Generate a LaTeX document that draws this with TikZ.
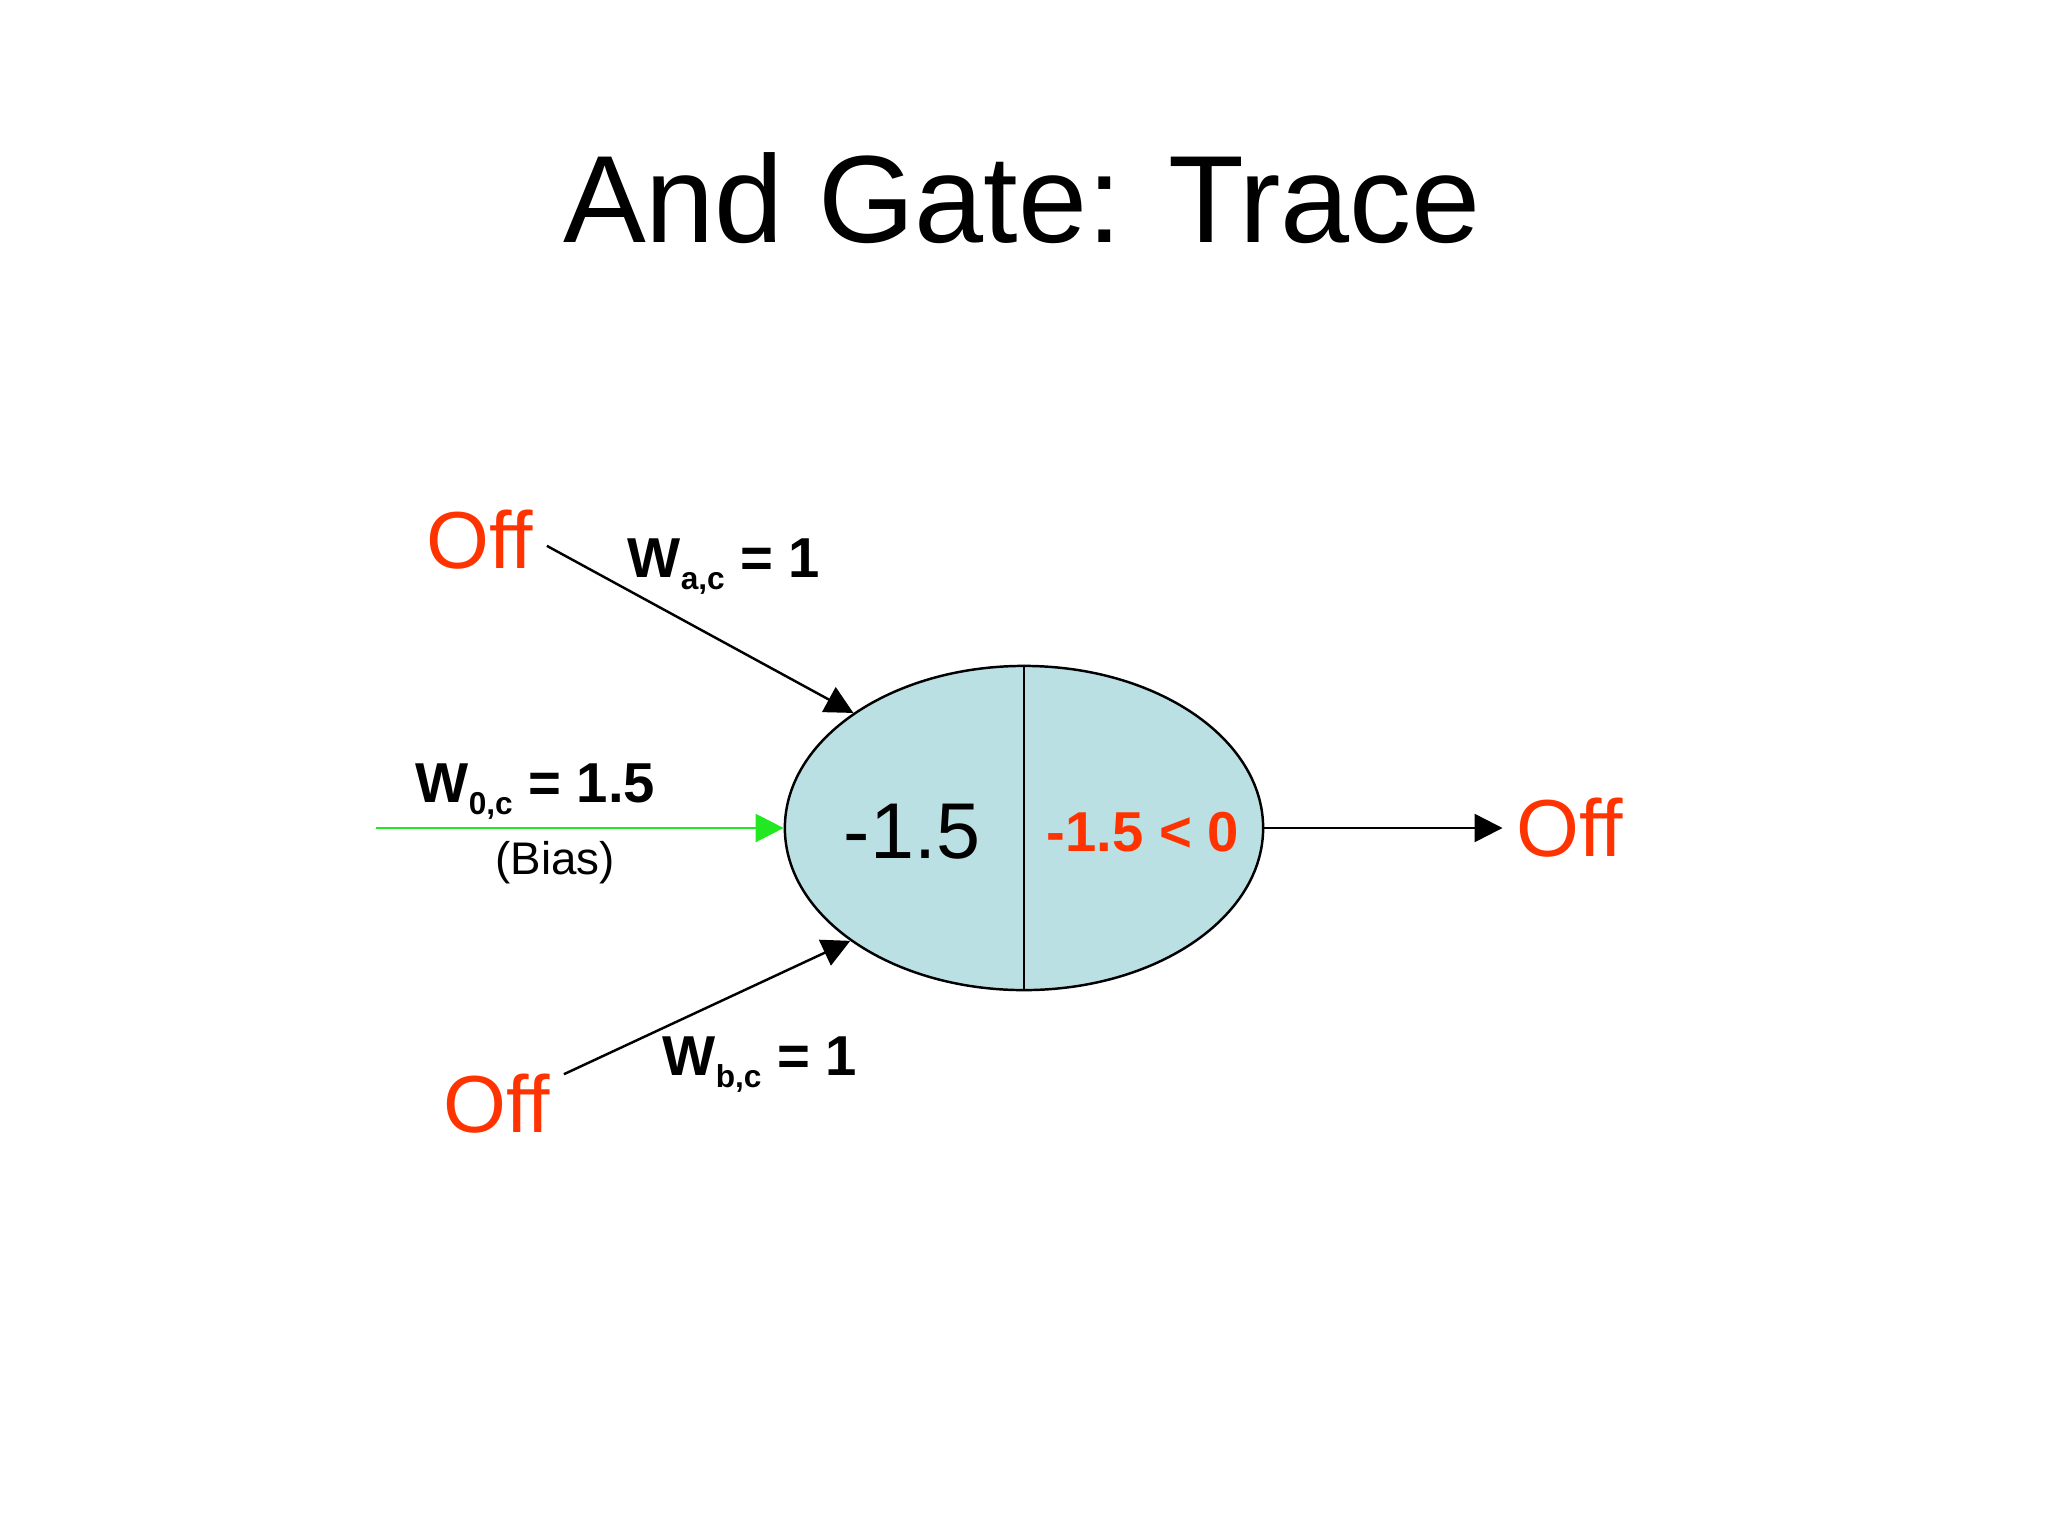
\documentclass[tikz,border=0pt]{standalone}
\usepackage{fontspec}
\setmainfont{Liberation Sans}
\usetikzlibrary{positioning, shapes.geometric, arrows.meta}

\definecolor{offred}{RGB}{255,51,0}
\definecolor{cellblue}{RGB}{187,224,227}
\definecolor{biasgreen}{RGB}{34,232,34}

\newcommand{\wlab}[2]{\textbf{W\raisebox{-3.6pt}{\fontsize{9}{9}\selectfont #1} = #2}}

\begin{document}
\begin{tikzpicture}[x=0.01cm, y=-0.01cm,
    state/.style={text=offred, font=\fontsize{23}{23}\selectfont, inner sep=0.13cm},
    weight/.style={anchor=base west, font=\fontsize{16}{16}\selectfont, inner sep=0pt},
    wire/.style={line width=0.7pt, -{Triangle[length=0.28cm, width=0.28cm]}}]
    \useasboundingbox (0,0) rectangle (2048,1536);
    \node (title) [anchor=base] at (1022,242) {\fontsize{35.3}{35.3}\selectfont And Gate: Trace};
    % the unit
    \node (neuron) [ellipse, draw, fill=cellblue, line width=0.7pt, inner sep=0pt,
        minimum width=4.78cm, minimum height=3.24cm] at (1024,828) {};
    \draw[line width=0.7pt] (neuron.north) -- (neuron.south);
    \node (sum) at (912,832) {\fontsize{22.5}{22.5}\selectfont -1.5};
    \node (test) [text=offred] at (1143,832) {\fontsize{16}{16}\selectfont\bfseries -1.5 < 0};
    % inputs
    \node (offa) [state] at (480,540) {Off};
    \node (offb) [state] at (497,1104) {Off};
    \node (offout) [state, right=2.38cm of neuron] {Off};
    \coordinate (biasin) at (376,828);
    \node (wac) [weight] at (627,577) {\wlab{a,c}{1}};
    \node (w0c) [weight] at (415,802) {\wlab{0,c}{1.5}};
    \node (bias) [font=\fontsize{13}{13}\selectfont] at (555,863) {(Bias)};
    \node (wbc) [weight] at (662,1075) {\wlab{b,c}{1}};
    \draw[wire] (offa.-5) -- (neuron.146);
    \draw[wire] (offb.24) -- (neuron.213);
    \draw[wire, biasgreen] (biasin) -- (neuron.west);
    \draw[wire] (neuron.east) -- (offout.west);
\end{tikzpicture}
\end{document}
